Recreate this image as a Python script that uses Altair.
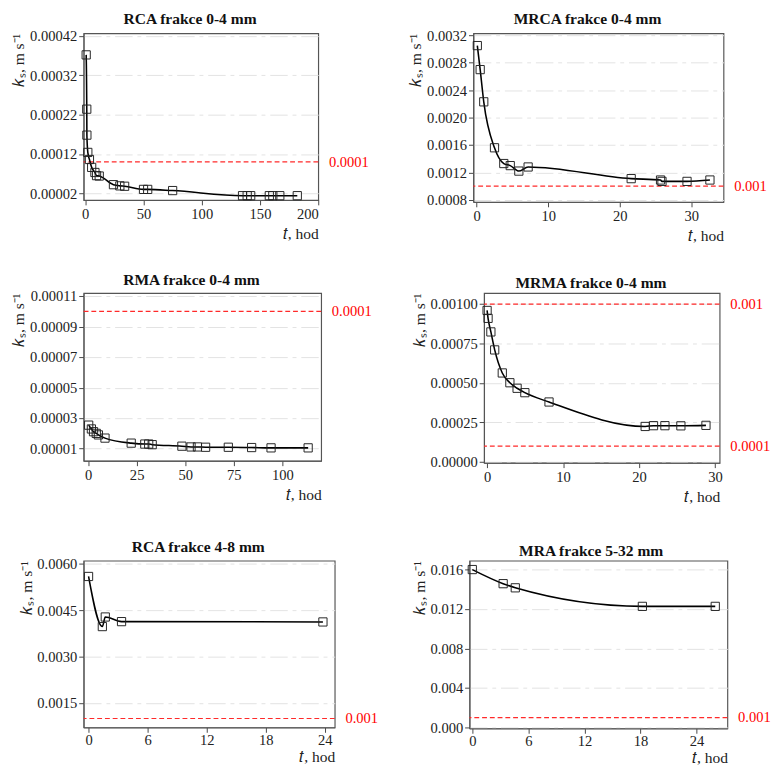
import altair as alt
import pandas as pd

FONT = "Liberation Serif"

# ---------------- data ----------------
rca04_t = [0.8, 1.3, 1.4, 2.2, 3.6, 5.5, 8.3, 9.7, 12, 24.2, 29.7, 33.8, 50, 53.6, 75,
           135, 139, 142, 158, 161, 167, 182]
rca04_k = [0.000372, 0.000234, 0.000168, 0.000124, 0.000106, 0.000086, 0.000073, 0.000065,
           0.000064, 0.000042, 0.000039, 0.000038, 0.000030, 0.000030, 0.000027,
           0.000014, 0.000014, 0.000014, 0.000014, 0.000014, 0.000014, 0.000014]

mrca04_t = [0.1, 0.5, 1.0, 2.5, 3.8, 4.7, 5.9, 7.2, 21.6, 25.7, 25.9, 29.4, 32.6]
mrca04_k = [0.00305, 0.00270, 0.00223, 0.00156, 0.00133, 0.00130, 0.00122, 0.00128,
            0.00111, 0.00109, 0.00107, 0.00107, 0.00109]

rma04_t = [0.3, 1.7, 2.8, 4.2, 5.3, 8.7, 22.2, 29.2, 31.2, 33, 48.3, 53, 56.3, 60.5,
           72.2, 84.2, 94.2, 113.3]
rma04_k = [0.0000254, 0.0000229, 0.0000211, 0.0000200, 0.0000190, 0.0000169, 0.0000136,
           0.0000130, 0.0000130, 0.0000126, 0.0000116, 0.0000111, 0.0000111, 0.0000109,
           0.0000109, 0.0000107, 0.0000105, 0.0000105]

mrma04_t = [0.0, 0.13, 0.5, 1.0, 2.0, 3.0, 3.95, 4.97, 8.15, 20.8, 21.9, 23.4, 25.5, 28.8]
mrma04_k = [0.00096, 0.00091, 0.000824, 0.00071, 0.000564, 0.000502, 0.000467, 0.000439,
            0.00038, 0.000225, 0.00023, 0.00023, 0.000229, 0.000232]

rca48_t = [0.0, 1.4, 1.7, 3.35, 23.8]
rca48_k = [0.00559, 0.00397, 0.00428, 0.00413, 0.00412]

mra532_t = [0.0, 3.3, 4.6, 18.2, 26.0]
mra532_k = [0.0160, 0.01457, 0.01415, 0.01227, 0.01227]

titles = ["RCA frakce 0-4 mm", "MRCA frakce 0-4 mm", "RMA frakce 0-4 mm",
          "MRMA frakce 0-4 mm", "RCA frakce 4-8 mm", "MRA frakce 5-32 mm"]

x_ticks = [[0, 50, 100, 150, 200], [0, 10, 20, 30], [0, 25, 50, 75, 100],
           [0, 10, 20, 30], [0, 6, 12, 18, 24], [0, 6, 12, 18, 24]]
y_ticks = [[0.00002, 0.00012, 0.00022, 0.00032, 0.00042],
           [0.0008, 0.0012, 0.0016, 0.0020, 0.0024, 0.0028, 0.0032],
           [0.00001, 0.00003, 0.00005, 0.00007, 0.00009, 0.00011],
           [0.0, 0.00025, 0.0005, 0.00075, 0.001],
           [0.0015, 0.0030, 0.0045, 0.0060],
           [0.000, 0.004, 0.008, 0.012, 0.016]]
y_formats = [".5f", ".4f", ".5f", ".5f", ".4f", ".3f"]

ref_values = [[0.0001], [0.001], [0.0001], [0.001, 0.0001], [0.001], [0.001]]
ref_labels = [["0.0001"], ["0.001"], ["0.0001"], ["0.001", "0.0001"], ["0.001"], ["0.001"]]

x_domains = [[-1.4, 200], [-0.45, 34.5], [-2.3, 120], [-0.4, 30.6], [-0.5, 25], [-0.3, 27.3]]
y_domains = [[0.000003, 0.000427], [0.00077, 0.00323], [0.000002, 0.000112],
             [-0.000005, 0.00107], [0.00071, 0.0061], [-0.0001, 0.0169]]

sizes = [(242, 172), (258, 174), (245, 173), (243, 175), (259, 172), (266, 173)]
row_spacing = [39, 39, 32]

series_t = [rca04_t, mrca04_t, rma04_t, mrma04_t, rca48_t, mra532_t]
series_k = [rca04_k, mrca04_k, rma04_k, mrma04_k, rca48_k, mra532_k]

AX = dict(labelFont=FONT, titleFont=FONT, labelFontSize=15, titleFontSize=16,
          titleFontWeight="normal", labelColor="#222", titleColor="#222",
          tickColor="#444", domainColor="#555", tickSize=5)


def panel(i):
    w, h = sizes[i]
    last_row = i >= 4
    df = pd.DataFrame({"t": series_t[i], "k": series_k[i]})
    rdf = pd.DataFrame({"k": ref_values[i], "lab": ref_labels[i]})
    X = alt.X("t:Q",
              scale=alt.Scale(domain=x_domains[i], nice=False, zero=False),
              axis=alt.Axis(values=x_ticks[i], format="d", title="𝑡, hod", grid=False,
                            titleAnchor="end", titlePadding=1 if last_row else 5,
                            labelPadding=1 if last_row else 2, **AX))
    Y = alt.Y("k:Q",
              scale=alt.Scale(domain=y_domains[i], nice=False, zero=False),
              axis=alt.Axis(values=y_ticks[i], format=y_formats[i], title="𝑘ₛ, m s⁻¹",
                            titleAnchor="end", grid=True, gridColor="#e2e2e2",
                            gridDash=[18, 5, 4, 5], titlePadding=3, labelPadding=2, **AX))
    base = alt.Chart(df)
    line = base.mark_line(color="black", strokeWidth=1.6, interpolate="monotone").encode(x=X, y=Y)
    pts = base.mark_point(shape="square", size=72, filled=False, color="#222",
                          strokeWidth=1, opacity=1).encode(x=X, y=Y)
    rule = alt.Chart(rdf).mark_rule(color="#ff2a2a", strokeDash=[5, 3], strokeWidth=1.2).encode(y=Y)
    txt = alt.Chart(rdf).mark_text(align="left", baseline="middle", color="#ff0000",
                                   font=FONT, fontSize=15).encode(
        x=alt.value(w + 11), y=Y, text="lab:N")
    return alt.layer(rule, line, pts, txt).properties(
        width=w, height=h,
        title=alt.TitleParams(titles[i], font=FONT, fontSize=16, fontWeight="bold",
                              frame="bounds", offset=2, color="#111"))


rows = []
for r in range(3):
    rows.append(alt.hconcat(panel(2 * r), panel(2 * r + 1), spacing=row_spacing[r]))

top_rows = alt.vconcat(rows[0], rows[1], spacing=27)
chart = alt.vconcat(top_rows, rows[2], spacing=34).properties(
    padding={"left": 2, "top": -10, "right": 0, "bottom": -3}
).configure(font=FONT).configure_view(stroke="#555", strokeWidth=1.2)

chart.save("out.html", embed_options={"renderer": "svg", "actions": False})
